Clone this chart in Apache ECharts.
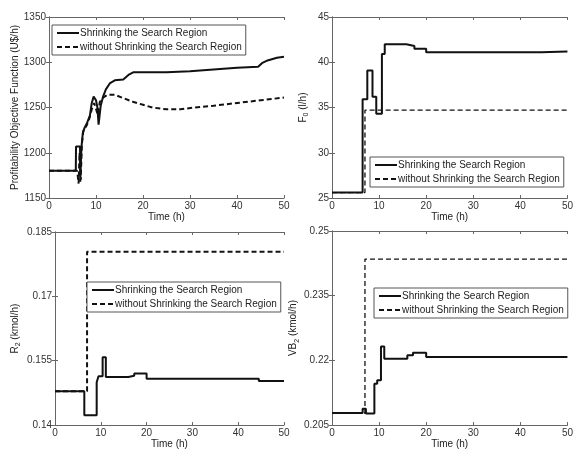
<!DOCTYPE html>
<html style="height: 100%">
    <head>
        <meta charset="utf-8">
    </head>
    <body style="height: 100%; margin: 0; background: #fff">
        <div id="container" style="width: 576px; height: 450px"></div>
        <script type="text/javascript" src="https://cdn.jsdelivr.net/npm/echarts@6/dist/echarts.min.js"></script>
        <script type="text/javascript">
            // series names
            var nameShrink = 'Shrinking the Search Region';
            var nameNoShrink = 'without Shrinking the Search Region';

            // profitability objective function (U$/h) vs time (h)
            var profitShrink = [[0,1180],[5.7,1180],[5.75,1207],[6.6,1207],[6.65,1168],[6.9,1206],[7.2,1222],[7.6,1228],[8.1,1233],[8.7,1241],[9.1,1255],[9.5,1262],[10.0,1258],[10.3,1250],[10.55,1231],[11.0,1252],[11.5,1262],[12.1,1270],[13,1277],[14,1280],[15.8,1281],[16.9,1286],[18,1289],[20,1289],[25,1289],[30,1290],[35,1292],[40,1294],[44.5,1295],[45.3,1299],[46.5,1302],[48.5,1305],[50,1306]];
            var profitNoShrink = [[0,1180],[6.0,1180],[6.3,1166],[6.5,1200],[6.75,1170],[7.0,1210],[7.3,1224],[8.0,1230],[8.6,1238],[9.1,1248],[9.6,1255],[10.0,1257],[10.4,1242],[10.8,1256],[11.5,1261],[12.5,1264],[14,1264],[16,1260],[18,1256],[20,1253],[22,1250],[25,1248],[28,1248],[31,1250],[35,1252],[40,1255],[45,1258],[50,1261]];

            // F0 (l/h), step changes
            var f0Shrink = [[0,25.6],[6.5,35.9],[7.5,39.1],[8.6,36.2],[9.4,34.3],[10.6,40.9],[11.2,42.0],[15.8,41.8],[17.5,41.5],[20,41.1],[44.5,41.2],[50,41.2]];
            var f0NoShrink = [[0,25.6],[7.0,34.7],[50,34.7]];

            // R2 (kmol/h)
            var r2Shrink = [[0,0.1479],[6.4,0.1423],[9.1,0.1500],[9.5,0.1514],[10.4,0.1558],[11.1,0.1512],[16,0.1515],[17.3,0.1520],[20,0.1508],[44.5,0.1503],[50,0.1503]];
            var r2NoShrink = [[0,0.1479],[7.0,0.1804],[50,0.1804]];

            // VB2 (kmol/h)
            var vb2Shrink = [[0,0.2078],[6.5,0.2088],[7.2,0.2077],[9.0,0.2146],[9.6,0.2154],[10.4,0.2232],[11.1,0.2204],[16,0.2212],[17.2,0.2218],[20,0.2208],[50,0.2208]];
            var vb2NoShrink = [[0,0.2078],[7.0,0.2435],[50,0.2435]];

            // y axis ranges [min, max, interval]
            var yRanges = [[1150,1350,50],[25,45,5],[0.14,0.185,0.015],[0.205,0.25,0.015]];
            var yNames = ['Profitability Objective Function (U$/h)', 'F{sub|0} (l/h)', 'R{sub|2} (kmol/h)', 'VB{sub|2} (kmol/h)'];

            var font = 'Liberation Sans';
            var grids = [
                {left: 49, top: 17, width: 235, height: 181},
                {left: 332, top: 17, width: 237, height: 181},
                {left: 55, top: 232, width: 229, height: 194},
                {left: 332, top: 231, width: 237, height: 196}
            ];
            var yNameGaps = [26, 22, 33, 26];
            var legendPos = [[52,25],[370,157],[87,282],[374,288]];

            var xAxes = [], yAxes = [], legends = [];
            for (var i = 0; i < 4; i++) {
                grids[i].show = false;
                xAxes.push({
                    type: 'value', gridIndex: i, min: 0, max: 50, interval: 10,
                    name: 'Time (h)', nameLocation: 'middle', nameGap: 12,
                    nameTextStyle: {fontFamily: font, fontSize: 10, color: '#222'},
                    axisLine: {lineStyle: {color: '#666', width: 1}},
                    axisTick: {inside: true, length: 3, lineStyle: {color: '#666'}},
                    axisLabel: {margin: 3, fontFamily: font, fontSize: 10, color: '#333'},
                    splitLine: {show: false}
                });
                xAxes.push({
                    type: 'value', gridIndex: i, min: 0, max: 50, interval: 10, position: 'top',
                    axisLine: {lineStyle: {color: '#666', width: 1}},
                    axisTick: {inside: true, length: 3, lineStyle: {color: '#666'}},
                    axisLabel: {show: false},
                    splitLine: {show: false}
                });
                yAxes.push({
                    type: 'value', gridIndex: i, min: yRanges[i][0], max: yRanges[i][1], interval: yRanges[i][2],
                    name: yNames[i], nameLocation: 'middle', nameGap: yNameGaps[i],
                    nameTextStyle: {fontFamily: font, fontSize: 10, color: '#222',
                        rich: {sub: {fontFamily: font, fontSize: 7, color: '#222', verticalAlign: 'bottom', padding: [6, 0, 0, 0]}}},
                    axisLine: {show: true, lineStyle: {color: '#666', width: 1}},
                    axisTick: {show: true, inside: true, length: 3, lineStyle: {color: '#666'}},
                    axisLabel: {margin: 3, fontFamily: font, fontSize: 10, color: '#333',
                        formatter: function (v) { return String(parseFloat(v.toFixed(4))); }},
                    splitLine: {show: false}
                });
                yAxes.push({
                    type: 'value', gridIndex: i, min: yRanges[i][0], max: yRanges[i][1], interval: yRanges[i][2], position: 'right',
                    axisLine: {show: true, lineStyle: {color: '#666', width: 1}},
                    axisTick: {show: true, inside: true, length: 3, lineStyle: {color: '#666'}},
                    axisLabel: {show: false},
                    splitLine: {show: false}
                });
                legends.push({
                    data: [nameShrink, nameNoShrink],
                    orient: 'vertical', left: legendPos[i][0], top: legendPos[i][1],
                    backgroundColor: '#fff', borderColor: '#555', borderWidth: 1,
                    padding: [3, 4, 3, 4], itemGap: 4, itemWidth: 22, itemHeight: 8,
                    itemStyle: {opacity: 0},
                    textStyle: {fontFamily: font, fontSize: 10, color: '#222', padding: [0, 0, 0, -4]},
                    selectedMode: false
                });
            }

            function mkSeries(name, data, idx, dashed, step, width) {
                return {
                    name: name, type: 'line', xAxisIndex: idx * 2, yAxisIndex: idx * 2,
                    data: data, step: step ? 'end' : false, symbol: 'none', animation: false,
                    lineStyle: {color: '#111', width: width, type: dashed ? [5, 3] : 'solid'},
                    itemStyle: {color: '#111'}, z: dashed ? 3 : 4
                };
            }

            var dom = document.getElementById("container");
            var myChart = echarts.init(dom);
            var option = {
                backgroundColor: '#fff',
                animation: false,
                grid: grids,
                xAxis: xAxes,
                yAxis: yAxes,
                legend: legends,
                series: [
                    mkSeries(nameShrink, profitShrink, 0, false, false, 2),
                    mkSeries(nameNoShrink, profitNoShrink, 0, true, false, 2),
                    mkSeries(nameShrink, f0Shrink, 1, false, true, 2),
                    mkSeries(nameNoShrink, f0NoShrink, 1, true, true, 1.3),
                    mkSeries(nameShrink, r2Shrink, 2, false, true, 2),
                    mkSeries(nameNoShrink, r2NoShrink, 2, true, true, 2),
                    mkSeries(nameShrink, vb2Shrink, 3, false, true, 2),
                    mkSeries(nameNoShrink, vb2NoShrink, 3, true, true, 1.3)
                ]
            };
            myChart.setOption(option, true);
        </script>
    </body>
</html>
